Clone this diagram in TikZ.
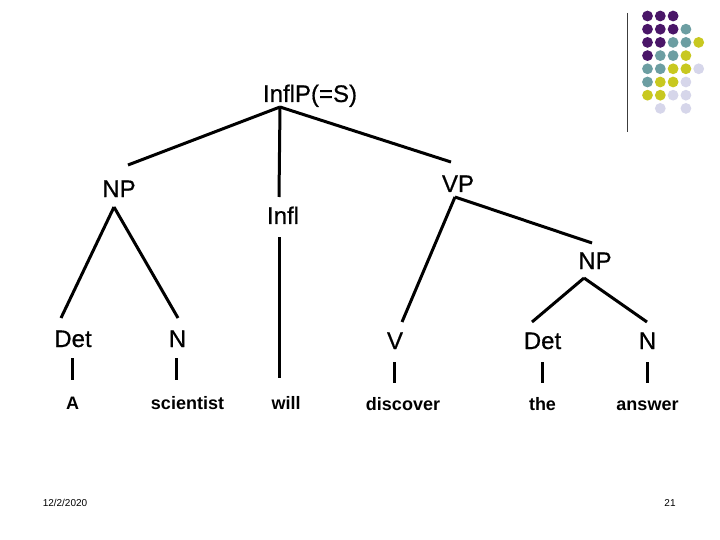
\documentclass[tikz,border=0pt]{standalone}
\usepackage{fontspec}
\setmainfont{Liberation Sans}
\newfontfamily\heavysans[FakeBold=0.6]{Liberation Sans}
\definecolor{dpur}{RGB}{74,22,104}
\definecolor{dteal}{RGB}{108,158,162}
\definecolor{dyel}{RGB}{200,200,32}
\definecolor{dlav}{RGB}{214,214,234}
\definecolor{rulegray}{RGB}{60,60,60}
\begin{document}
\begin{tikzpicture}[x=1pt,y=-1pt,
  lbl/.style={anchor=base, inner sep=0pt, font=\heavysans\fontsize{24}{28}\selectfont},
  word/.style={anchor=base, inner sep=0pt, font=\bfseries\fontsize{18}{22}\selectfont},
  foot/.style={anchor=base, inner sep=0pt, font=\fontsize{10}{12}\selectfont},
  branch/.style={line width=3pt},
  dotmark/.style={circle, inner sep=0pt, minimum size=10.8pt}]
\useasboundingbox (0,0) rectangle (720,540);
% decoration
\draw[rulegray, line width=1pt] (627,13) coordinate (r1) -- (627,132) coordinate (r2);
\foreach \c/\r/\col in {0/0/dpur,1/0/dpur,2/0/dpur,
  0/1/dpur,1/1/dpur,2/1/dpur,3/1/dteal,
  0/2/dpur,1/2/dpur,2/2/dteal,3/2/dteal,4/2/dyel,
  0/3/dpur,1/3/dteal,2/3/dteal,3/3/dyel,
  0/4/dteal,1/4/dteal,2/4/dyel,3/4/dyel,4/4/dlav,
  0/5/dteal,1/5/dyel,2/5/dyel,3/5/dlav,
  0/6/dyel,1/6/dyel,2/6/dlav,3/6/dlav,
  1/7/dlav,3/7/dlav}
  \node[dotmark, fill=\col] (d\c\r) at ({647.5+12.8*\c},{16+13.2*\r}) {};
% labels
\node[lbl] (S) at (310,102) {InflP(=S)};
\node[lbl] (NPl) at (119,197) {NP};
\node[lbl] (VP) at (458,192) {VP};
\node[lbl] (Infl) at (283,224) {Infl};
\node[lbl] (NPr) at (595,269) {NP};
\node[lbl] (Detl) at (73,347) {Det};
\node[lbl] (Nl) at (177.5,347) {N};
\node[lbl] (V) at (395,349) {V};
\node[lbl] (Detr) at (542.5,349) {Det};
\node[lbl] (Nr) at (647.5,349) {N};
\node[word] (wA) at (72.5,409) {A};
\node[word] (wsci) at (187.5,409) {scientist};
\node[word] (wwill) at (286,409) {will};
\node[word] (wdisc) at (403,410) {discover};
\node[word] (wthe) at (542.5,410) {the};
\node[word] (wans) at (647.5,410) {answer};
\node[foot] (date) at (65,506) {12/2/2020};
\node[foot] (page) at (670,506) {21};
% branch points
\coordinate (Sa) at (280,107);
\coordinate (NPlt) at (128,165);
\coordinate (VPt) at (451,162);
\coordinate (Inflt) at (279,197);
\coordinate (Inflb) at (279,237);
\coordinate (willt) at (279,378);
\coordinate (NPla) at (114,207);
\coordinate (Detlt) at (61,318);
\coordinate (Nlt) at (178,318);
\coordinate (Detlb) at (72,358);
\coordinate (At) at (72,380);
\coordinate (Nlb) at (176,358);
\coordinate (scit) at (176,380);
\coordinate (VPa) at (455,197);
\coordinate (Vt) at (402,322);
\coordinate (NPrt) at (592,243);
\coordinate (NPra) at (584,278);
\coordinate (Detrt) at (532,322);
\coordinate (Nrt) at (647,322);
\coordinate (Vb) at (394,362);
\coordinate (disct) at (394,383);
\coordinate (Detrb) at (542,362);
\coordinate (thet) at (542,383);
\coordinate (Nrb) at (647,362);
\coordinate (anst) at (647,383);
% branches
\draw[branch] (Sa) -- (NPlt);
\draw[branch] (Sa) -- (VPt);
\draw[branch] (Sa) -- (Inflt);
\draw[branch] (Inflb) -- (willt);
\draw[branch] (NPla) -- (Detlt);
\draw[branch] (NPla) -- (Nlt);
\draw[branch] (Detlb) -- (At);
\draw[branch] (Nlb) -- (scit);
\draw[branch] (VPa) -- (Vt);
\draw[branch] (VPa) -- (NPrt);
\draw[branch] (NPra) -- (Detrt);
\draw[branch] (NPra) -- (Nrt);
\draw[branch] (Vb) -- (disct);
\draw[branch] (Detrb) -- (thet);
\draw[branch] (Nrb) -- (anst);
\end{tikzpicture}
\end{document}
